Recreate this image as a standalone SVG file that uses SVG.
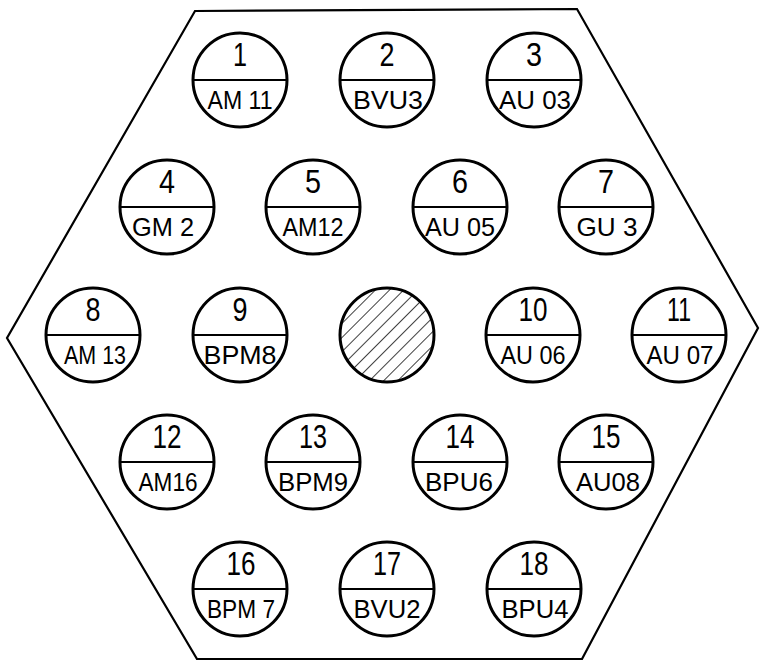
<svg xmlns="http://www.w3.org/2000/svg" width="760" height="660" viewBox="0 0 760 660">
<style>
.hex{fill:none;stroke:#000;stroke-width:2.2;stroke-linejoin:miter}
.c{fill:#fff;stroke:#000;stroke-width:3}
.d{stroke:#000;stroke-width:2}
.n{font-family:"Liberation Sans",Arial,sans-serif;font-size:34px;text-anchor:middle;fill:#000}
.l{font-family:"Liberation Sans",Arial,sans-serif;font-size:25px;text-anchor:middle;fill:#000}
</style>
<defs>
<pattern id="hatch" width="10" height="10" patternUnits="userSpaceOnUse" patternTransform="rotate(45)">
<line x1="0" y1="0" x2="0" y2="10" stroke="#000" stroke-width="1.5"/>
</pattern>
</defs>
<rect width="760" height="660" fill="#fff"/>
<polygon class="hex" points="195,11 577,9 758,328 582,659 197,659 7,338"/>
<g id="connectors"/>

<g id="n1"><circle class="c" cx="240" cy="80" r="47"/><line class="d" x1="193" y1="80" x2="287" y2="80"/><text class="n" x="240" y="66" textLength="14" lengthAdjust="spacingAndGlyphs">1</text><text class="l" x="240" y="109" textLength="65" lengthAdjust="spacingAndGlyphs">AM 11</text></g>
<g id="n2"><circle class="c" cx="387" cy="80" r="47"/><line class="d" x1="340" y1="80" x2="434" y2="80"/><text class="n" x="387" y="66" textLength="15" lengthAdjust="spacingAndGlyphs">2</text><text class="l" x="388" y="109" textLength="70" lengthAdjust="spacingAndGlyphs">BVU3</text></g>
<g id="n3"><circle class="c" cx="534" cy="80" r="47"/><line class="d" x1="487" y1="80" x2="581" y2="80"/><text class="n" x="534" y="66" textLength="16" lengthAdjust="spacingAndGlyphs">3</text><text class="l" x="535" y="109" textLength="72" lengthAdjust="spacingAndGlyphs">AU 03</text></g>

<g id="n4"><circle class="c" cx="167" cy="207" r="47"/><line class="d" x1="120" y1="207" x2="214" y2="207"/><text class="n" x="167" y="193" textLength="16" lengthAdjust="spacingAndGlyphs">4</text><text class="l" x="163" y="236" textLength="62" lengthAdjust="spacingAndGlyphs">GM 2</text></g>
<g id="n5"><circle class="c" cx="313" cy="207" r="47"/><line class="d" x1="266" y1="207" x2="360" y2="207"/><text class="n" x="313" y="193" textLength="16" lengthAdjust="spacingAndGlyphs">5</text><text class="l" x="313" y="236" textLength="61" lengthAdjust="spacingAndGlyphs">AM12</text></g>
<g id="n6"><circle class="c" cx="460" cy="207" r="47"/><line class="d" x1="413" y1="207" x2="507" y2="207"/><text class="n" x="460" y="193" textLength="16" lengthAdjust="spacingAndGlyphs">6</text><text class="l" x="460" y="236" textLength="70" lengthAdjust="spacingAndGlyphs">AU 05</text></g>
<g id="n7"><circle class="c" cx="606" cy="207" r="47"/><line class="d" x1="559" y1="207" x2="653" y2="207"/><text class="n" x="606" y="193" textLength="16" lengthAdjust="spacingAndGlyphs">7</text><text class="l" x="607" y="236" textLength="61" lengthAdjust="spacingAndGlyphs">GU 3</text></g>

<g id="n8"><circle class="c" cx="93" cy="335" r="47"/><line class="d" x1="46" y1="335" x2="140" y2="335"/><text class="n" x="93" y="321" textLength="15" lengthAdjust="spacingAndGlyphs">8</text><text class="l" x="95" y="364" textLength="62" lengthAdjust="spacingAndGlyphs">AM 13</text></g>
<g id="n9"><circle class="c" cx="240" cy="335" r="47"/><line class="d" x1="193" y1="335" x2="287" y2="335"/><text class="n" x="240" y="321" textLength="15" lengthAdjust="spacingAndGlyphs">9</text><text class="l" x="240" y="364" textLength="73" lengthAdjust="spacingAndGlyphs">BPM8</text></g>
<g id="hatched"><circle cx="387" cy="335" r="47" fill="url(#hatch)" stroke="#000" stroke-width="3"/></g>
<g id="n10"><circle class="c" cx="533" cy="335" r="47"/><line class="d" x1="486" y1="335" x2="580" y2="335"/><text class="n" x="533" y="321" textLength="29" lengthAdjust="spacingAndGlyphs">10</text><text class="l" x="533" y="364" textLength="65" lengthAdjust="spacingAndGlyphs">AU 06</text></g>
<g id="n11"><circle class="c" cx="679" cy="335" r="47"/><line class="d" x1="632" y1="335" x2="726" y2="335"/><text class="n" x="679" y="321" textLength="24" lengthAdjust="spacingAndGlyphs">11</text><text class="l" x="680" y="364" textLength="67" lengthAdjust="spacingAndGlyphs">AU 07</text></g>

<g id="n12"><circle class="c" cx="167" cy="462" r="47"/><line class="d" x1="120" y1="462" x2="214" y2="462"/><text class="n" x="167" y="448" textLength="29" lengthAdjust="spacingAndGlyphs">12</text><text class="l" x="168" y="491" textLength="59" lengthAdjust="spacingAndGlyphs">AM16</text></g>
<g id="n13"><circle class="c" cx="313" cy="462" r="47"/><line class="d" x1="266" y1="462" x2="360" y2="462"/><text class="n" x="313" y="448" textLength="28" lengthAdjust="spacingAndGlyphs">13</text><text class="l" x="313" y="491" textLength="70" lengthAdjust="spacingAndGlyphs">BPM9</text></g>
<g id="n14"><circle class="c" cx="460" cy="462" r="47"/><line class="d" x1="413" y1="462" x2="507" y2="462"/><text class="n" x="460" y="448" textLength="29" lengthAdjust="spacingAndGlyphs">14</text><text class="l" x="459" y="491" textLength="68" lengthAdjust="spacingAndGlyphs">BPU6</text></g>
<g id="n15"><circle class="c" cx="606" cy="462" r="47"/><line class="d" x1="559" y1="462" x2="653" y2="462"/><text class="n" x="606" y="448" textLength="29" lengthAdjust="spacingAndGlyphs">15</text><text class="l" x="608" y="491" textLength="64" lengthAdjust="spacingAndGlyphs">AU08</text></g>

<g id="n16"><circle class="c" cx="240" cy="589" r="47"/><line class="d" x1="193" y1="589" x2="287" y2="589"/><text class="n" x="241" y="575" textLength="29" lengthAdjust="spacingAndGlyphs">16</text><text class="l" x="241" y="618" textLength="68" lengthAdjust="spacingAndGlyphs">BPM 7</text></g>
<g id="n17"><circle class="c" cx="387" cy="589" r="47"/><line class="d" x1="340" y1="589" x2="434" y2="589"/><text class="n" x="387" y="575" textLength="28" lengthAdjust="spacingAndGlyphs">17</text><text class="l" x="387" y="618" textLength="67" lengthAdjust="spacingAndGlyphs">BVU2</text></g>
<g id="n18"><circle class="c" cx="534" cy="589" r="47"/><line class="d" x1="487" y1="589" x2="581" y2="589"/><text class="n" x="534" y="575" textLength="29" lengthAdjust="spacingAndGlyphs">18</text><text class="l" x="535" y="618" textLength="67" lengthAdjust="spacingAndGlyphs">BPU4</text></g>
</svg>
